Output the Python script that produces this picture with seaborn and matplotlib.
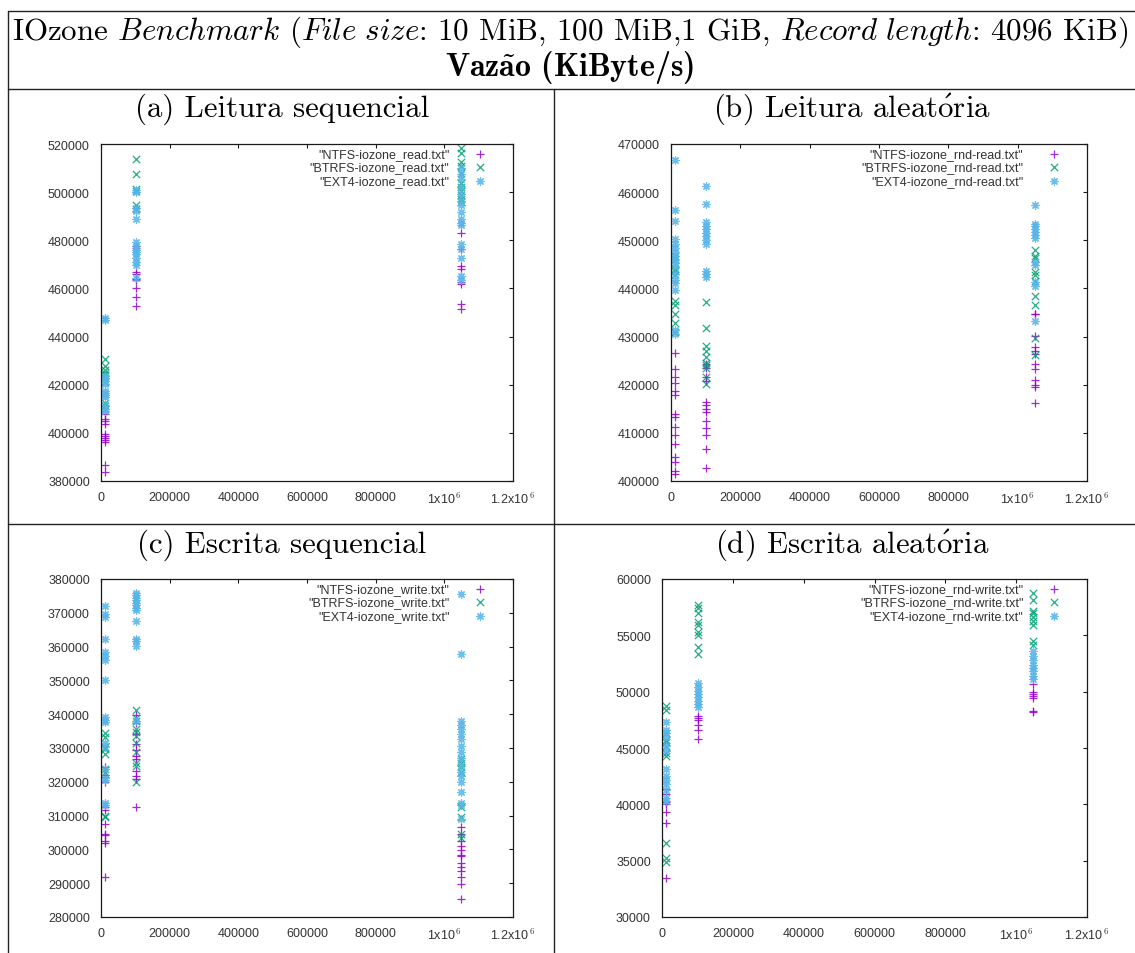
import matplotlib
matplotlib.use("Agg")
import matplotlib.pyplot as plt
import seaborn as sns
import pandas as pd
from matplotlib.lines import Line2D
from matplotlib.ticker import FixedLocator, FixedFormatter

# ---------------- data ----------------
FILE_SIZES_KIB = [10240, 102400, 1048576]
FS_NAMES = ["NTFS", "BTRFS", "EXT4"]

SEQ_READ_NTFS = [
    [383800, 386500, 396200, 397000, 397800, 398600, 399600, 403800, 404800, 405900, 408000],
    [477500, 476700, 467000, 466000, 464000, 463500, 460100, 456600, 452900],
    [482900, 476400, 469500, 468000, 462600, 461900, 453600, 451500],
]
SEQ_READ_BTRFS = [
    [430800, 427700, 426300, 424800, 423900, 422800, 421000, 412300, 411000, 410000],
    [513800, 507500, 501500, 500600, 494700, 493200],
    [518300, 516300, 512400, 511000, 508000, 504000, 502300, 500600, 499000, 497000, 496000],
]
SEQ_READ_EXT4 = [
    [447800, 447000, 423800, 422800, 421600, 420500, 417500, 416500, 415600, 414800, 411500, 410000, 409200],
    [501000, 500000, 493300, 492300, 488900, 479200, 477600, 476000, 475000, 474200, 472600, 471000, 469700, 464300],
    [510000, 507500, 505500, 502000, 499200, 496300, 494700, 491600, 489000, 487200, 486200, 478600, 476400, 472500, 465000, 463300],
]

RND_READ_NTFS = [
    [426600, 423200, 421600, 420300, 418700, 417800, 414000, 413300, 411300, 409600, 407700, 405000, 403900, 402000, 401500],
    [424300, 423500, 421700, 420700, 416400, 415700, 415000, 414300, 412400, 411100, 409600, 406700, 402600],
    [434700, 434600, 430200, 427800, 427100, 426300, 424300, 423300, 420900, 420000, 419500, 416200],
]
RND_READ_BTRFS = [
    [446800, 446200, 444100, 443600, 442700, 437300, 436500, 434600, 432800, 431000],
    [437100, 431800, 428000, 427000, 425800, 424600, 424000, 423400, 421500, 420200],
    [447900, 446800, 446300, 443400, 442700, 441600, 438500, 436500, 429600, 426200],
]
RND_READ_EXT4 = [
    [466700, 456300, 454000, 450300, 449200, 448400, 447600, 446800, 446000, 445300, 444400, 443000, 441800, 441200, 439600, 431300, 430600],
    [461200, 457600, 453700, 453000, 452300, 451500, 450800, 450100, 449300, 443700, 443100, 442300],
    [457400, 453400, 452900, 452400, 451800, 451000, 450500, 445500, 444800, 441300, 440500, 433300],
]

SEQ_WRITE_NTFS = [
    [324300, 322000, 321400, 320000, 312500, 311800, 307600, 304700, 304200, 302600, 302000, 291700],
    [339700, 337400, 334000, 331100, 329500, 327700, 326700, 323200, 321800, 320800, 312400],
    [306500, 304500, 302600, 301000, 299800, 298200, 297900, 296100, 294900, 293600, 291700, 289700, 285200],
]
SEQ_WRITE_BTRFS = [
    [334300, 333200, 330200, 329800, 328300, 323800, 322800, 310000, 309500],
    [341300, 339000, 338000, 335600, 334600, 333600, 331600, 328700, 325700, 324600, 319800],
    [326700, 325700, 324400, 322800, 312400, 309500, 304600, 303400],
]
SEQ_WRITE_EXT4 = [
    [372100, 369600, 368700, 362300, 358300, 357100, 355900, 350000, 339100, 338300, 337600, 331400, 330200, 323800, 321200, 320400, 313700, 313000],
    [376000, 375300, 374500, 373800, 373000, 372300, 371500, 370800, 367700, 362300, 361800, 360100, 338000],
    [375600, 357800, 338100, 336900, 335700, 334200, 332600, 330500, 328700, 326900, 325000, 322800, 321600, 320000, 317000, 313700, 313100, 309100],
]

RND_WRITE_NTFS = [
    [41400, 40900, 40200, 40000, 39300, 38300, 33500],
    [47800, 47700, 47500, 47000, 46600, 45800],
    [50700, 50000, 49800, 49600, 49400, 48300, 48200],
]
RND_WRITE_BTRFS = [
    [48700, 48400, 46300, 45700, 45500, 45200, 44600, 44300, 36600, 35200, 34900],
    [57700, 57400, 57000, 56200, 55900, 55300, 55000, 54000, 53300],
    [58800, 58100, 57200, 57000, 56600, 56300, 55900, 54500, 54100],
]
RND_WRITE_EXT4 = [
    [47300, 46600, 46300, 46000, 45200, 44700, 43100, 42500, 42200, 41800, 41300, 40600, 40300],
    [50800, 50400, 50100, 49800, 49500, 49200, 48900, 48600],
    [53600, 53200, 52800, 52400, 52100, 51800, 51400, 51100],
]

PANEL_TITLES = [
    "(a) Leitura sequencial",
    r"(b) Leitura aleat$\mathrm{\acute{o}}$ria",
    "(c) Escrita sequencial",
    r"(d) Escrita aleat$\mathrm{\acute{o}}$ria",
]
HEADER_LINE1 = (r"IOzone $\mathit{Benchmark}$ ($\mathit{File\ size}$: 10 MiB, 100 MiB,1 GiB, "
                r"$\mathit{Record\ length}$: 4096 KiB)")
HEADER_LINE2 = r"Vaz$\mathbf{\tilde{a}}$o (KiByte/s)"
FILE_TAGS = ["read", "rnd-read", "write", "rnd-write"]
Y_LIMS = [(380000, 520000), (400000, 470000), (280000, 380000), (30000, 60000)]
Y_STEPS = [20000, 10000, 10000, 5000]
X_TICKS = [0, 200000, 400000, 600000, 800000, 1000000, 1200000]
X_TICK_LABELS = ["0", "200000", "400000", "600000", "800000",
                 r"1x10$^{\,6}$", r"1.2x10$^{\,6}$"]

PANEL_DATA = [
    (SEQ_READ_NTFS, SEQ_READ_BTRFS, SEQ_READ_EXT4),
    (RND_READ_NTFS, RND_READ_BTRFS, RND_READ_EXT4),
    (SEQ_WRITE_NTFS, SEQ_WRITE_BTRFS, SEQ_WRITE_EXT4),
    (RND_WRITE_NTFS, RND_WRITE_BTRFS, RND_WRITE_EXT4),
]

# ---------------- style ----------------
COLORS = ["#9400D3", "#009E73", "#56B4E9"]
MARKERS = ["+", "x", (8, 2, 0)]

sns.set_theme(style="white")
plt.rcParams["mathtext.fontset"] = "cm"
plt.rcParams["font.family"] = ["Liberation Sans", "DejaVu Sans"]
plt.rcParams["axes.unicode_minus"] = False

W, H = 1135, 954
fig = plt.figure(figsize=(W / 100, H / 100), dpi=100)
fig.patch.set_facecolor("white")

# axes boxes in pixels: left, right, top, bottom
BOXES = [(101, 513, 145, 482), (671, 1087, 145, 482),
         (101, 513, 580, 918), (662, 1087, 580, 918)]


def fx(x):
    return x / W


def fy(y):
    return 1 - y / H


TICK_COLOR = "#333333"

for i, (l, r, t, b) in enumerate(BOXES):
    ax = fig.add_axes([fx(l), fy(b), fx(r) - fx(l), fy(t) - fy(b)])
    ax.set_facecolor("white")
    for k, fs in enumerate(FS_NAMES):
        series = PANEL_DATA[i][k]
        xs, ys = [], []
        for size, vals in zip(FILE_SIZES_KIB, series):
            xs += [size] * len(vals)
            ys += vals
        df = pd.DataFrame({"size": xs, "value": ys})
        sns.scatterplot(data=df, x="size", y="value", ax=ax,
                        marker=MARKERS[k], color=COLORS[k], s=28,
                        linewidth=0.9, alpha=0.85,
                        label='"%s-iozone_%s.txt"' % (fs, FILE_TAGS[i]))
    lo, hi = Y_LIMS[i]
    ax.set_xlim(0, 1200000)
    ax.set_ylim(lo, hi)
    ax.xaxis.set_major_locator(FixedLocator(X_TICKS))
    ax.xaxis.set_major_formatter(FixedFormatter(X_TICK_LABELS))
    yt = list(range(lo, hi + 1, Y_STEPS[i]))
    ax.yaxis.set_major_locator(FixedLocator(yt))
    ax.yaxis.set_major_formatter(FixedFormatter([str(v) for v in yt]))
    ax.set_xlabel("")
    ax.set_ylabel("")
    for sp in ax.spines.values():
        sp.set_visible(True)
        sp.set_color("#1a1a1a")
        sp.set_linewidth(0.9)
    ax.tick_params(axis="both", which="major", direction="in", length=3.2,
                   width=0.8, color="#1a1a1a", top=True, right=True,
                   labelsize=9, labelcolor=TICK_COLOR)
    ax.tick_params(axis="y", pad=8)
    ax.tick_params(axis="x", pad=7)
    ax.grid(False)
    width_px = r - l
    height_px = b - t
    leg = ax.legend(loc="upper right", markerfirst=False, frameon=False,
                    fontsize=9, handlelength=2.0, handletextpad=1.4,
                    borderpad=0, borderaxespad=0, labelspacing=0.12,
                    scatterpoints=1,
                    bbox_to_anchor=(1 - 21 / width_px, 1 - 4 / height_px))
    for txt in leg.get_texts():
        txt.set_color(TICK_COLOR)
    # panel title
    cx = 282 if i % 2 == 0 else 852
    by = 117 if i < 2 else 553
    fig.text(fx(cx), fy(by), PANEL_TITLES[i], ha="center", va="baseline",
             fontsize=22.2, color="black", family="cmr10")

# header
fig.text(fx(570), fy(39.5), HEADER_LINE1, ha="center", va="baseline",
         fontsize=22.3, color="black", family="cmr10")
fig.text(fx(570), fy(76), HEADER_LINE2, ha="center", va="baseline",
         fontsize=23, color="black", family="cmb10")

# table lines
LINE_KW = dict(color="#222222", linewidth=1.0, transform=fig.transFigure)
fig.add_artist(Line2D([fx(8), 1], [fy(12), fy(12)], **LINE_KW))
fig.add_artist(Line2D([fx(8), 1], [fy(90), fy(90)], **LINE_KW))
fig.add_artist(Line2D([fx(8), 1], [fy(525), fy(525)], **LINE_KW))
fig.add_artist(Line2D([fx(8), fx(8)], [fy(12), 0], **LINE_KW))
fig.add_artist(Line2D([fx(554), fx(554)], [fy(90), 0], **LINE_KW))

fig.savefig("out.png", dpi=100, facecolor="white")
